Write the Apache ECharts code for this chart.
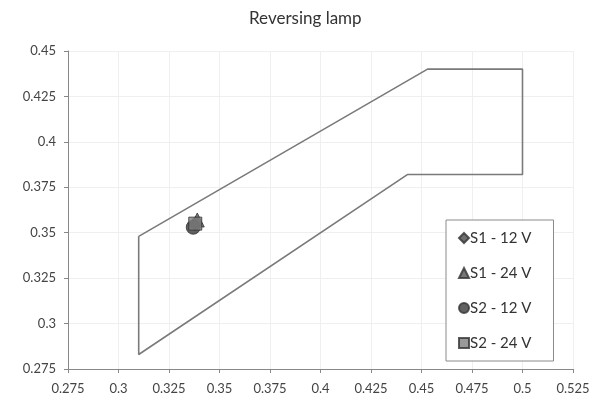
<!DOCTYPE html>
<html>
<head>
<meta charset="utf-8">
<script src="https://cdn.jsdelivr.net/npm/echarts@6/dist/echarts.min.js"></script>
<style>html,body{margin:0;padding:0;background:#fff;}#c{width:595px;height:403px;}</style>
</head>
<body>
<div id="c"></div>
<script>
var titleText = 'Reversing lamp';
var xTicks = [0.275, 0.3, 0.325, 0.35, 0.375, 0.4, 0.425, 0.45, 0.475, 0.5, 0.525];
var yTicks = [0.275, 0.3, 0.325, 0.35, 0.375, 0.4, 0.425, 0.45];
var boundaryX = [0.31, 0.453, 0.5, 0.5, 0.443, 0.31, 0.31];
var boundaryY = [0.348, 0.44, 0.44, 0.382, 0.382, 0.283, 0.348];
var seriesNames = ['S1 - 12 V', 'S1 - 24 V', 'S2 - 12 V', 'S2 - 24 V'];
var seriesX = [0.338, 0.339, 0.337, 0.338];
var seriesY = [0.355, 0.357, 0.353, 0.355];
var symbols = ['diamond', 'triangle', 'circle', 'rect'];
var colors = ['#4a4a4a', '#555555', '#3a3a3a', '#7f7f7f'];

var FONT = 'Lato';
var chart = echarts.init(document.getElementById('c'));
var boundary = boundaryX.map(function (x, i) { return [x, boundaryY[i]]; });
var pointSeries = seriesNames.map(function (n, i) {
  return {
    name: n, type: 'scatter', symbol: symbols[i], symbolSize: i === 3 ? 13 : 14,
    data: [[seriesX[i], seriesY[i]]],
    itemStyle: { color: colors[i], borderColor: '#333', borderWidth: 1 },
    z: 3 + i
  };
});
chart.setOption({
  animation: false,
  backgroundColor: '#fff',
  title: { text: titleText, left: 244, top: 5,
    textStyle: { fontFamily: FONT, fontSize: 17, fontWeight: 'normal', color: '#333' } },
  grid: { left: 68, right: 22, top: 51, bottom: 34, containLabel: false },
  legend: {
    data: seriesNames, orient: 'vertical', left: 446, top: 220,
    padding: [10, 22, 10, 12], itemGap: 19, itemWidth: 10, itemHeight: 10,
    borderColor: '#8a8a8a', borderWidth: 1, backgroundColor: '#fff',
    textStyle: { fontFamily: FONT, fontSize: 15, lineHeight: 16, color: '#333', padding: [0, 0, 0, -4] }
  },
  xAxis: {
    type: 'value', min: xTicks[0], max: xTicks[xTicks.length - 1], interval: 0.025,
    axisLine: { show: true, lineStyle: { color: '#888' } },
    axisTick: { show: true, length: 4, lineStyle: { color: '#888' } },
    axisLabel: { fontFamily: FONT, fontSize: 13, color: '#444', margin: 13 },
    splitLine: { show: true, lineStyle: { color: '#efefef' } }
  },
  yAxis: {
    type: 'value', min: yTicks[0], max: yTicks[yTicks.length - 1], interval: 0.025,
    axisLine: { show: true, lineStyle: { color: '#888' } },
    axisTick: { show: true, length: 4, lineStyle: { color: '#888' } },
    axisLabel: { fontFamily: FONT, fontSize: 13, color: '#444', margin: 12 },
    splitLine: { show: true, lineStyle: { color: '#efefef' } }
  },
  series: [{
    name: 'boundary', type: 'line', data: boundary, showSymbol: false, symbol: 'none',
    lineStyle: { color: '#7a7a7a', width: 1.6 }, z: 2, silent: true
  }].concat(pointSeries)
});
</script>
</body>
</html>
